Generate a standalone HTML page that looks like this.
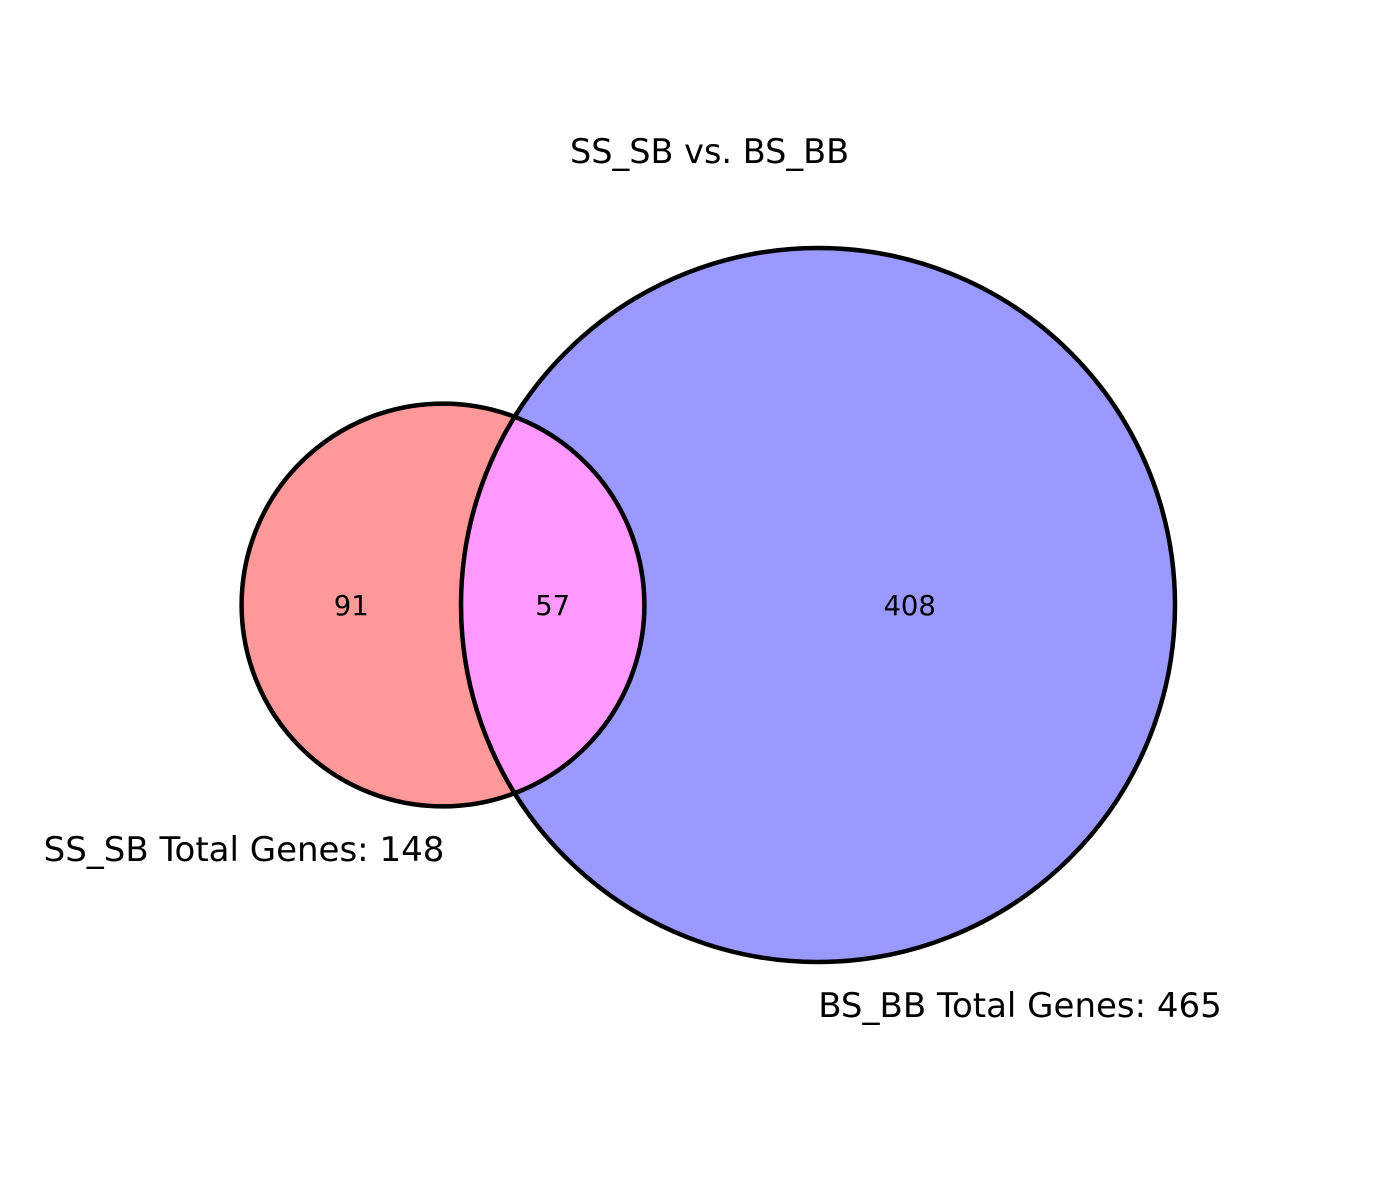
<!DOCTYPE html>
<html><head><meta charset="utf-8"><style>
html,body{margin:0;padding:0;background:#fff}
svg{display:block}
text{font-family:"DejaVu Sans","Liberation Sans",sans-serif;fill:#000}
</style></head><body>
<svg id="chart" width="1384" height="1200" viewBox="0 0 1384 1200">
<text x="709.5" y="163" font-size="33.5" text-anchor="middle">SS_SB vs. BS_BB</text>
</svg>
<script>
const setNames = ["SS_SB", "BS_BB"];
const setTotals = [148, 465];
const regionCounts = [91, 57, 408]; // A only, A∩B, B only

const svg = document.getElementById('chart');
const NS = 'http://www.w3.org/2000/svg';
const k = 357 / Math.sqrt(465);
const rA = k * Math.sqrt(setTotals[0]);
const rB = k * Math.sqrt(setTotals[1]);
const cy = 605;
const cxA = 443, cxB = 818;

function mk(tag, attrs) { const e = document.createElementNS(NS, tag); for (const a in attrs) e.setAttribute(a, attrs[a]); return e; }

const defs = mk('defs', {});
const cp = mk('clipPath', {id: 'clipB'});
cp.appendChild(mk('circle', {cx: cxB, cy: cy, r: rB}));
defs.appendChild(cp);
svg.appendChild(defs);

const circA = mk('circle', {cx: cxA, cy: cy, r: rA, fill: '#ff9999'});


svg.appendChild(circA);
const circB = mk('circle', {cx: cxB, cy: cy, r: rB, fill: '#9999ff'});


svg.appendChild(circB);
const inter = mk('circle', {cx: cxA, cy: cy, r: rA, fill: '#ff99ff', 'clip-path': 'url(#clipB)'});


svg.appendChild(inter);

const oA = mk('circle', {cx: cxA, cy: cy, r: rA, fill: 'none', stroke: '#000', 'stroke-width': 4.5});


svg.appendChild(oA);
const oB = mk('circle', {cx: cxB, cy: cy, r: rB, fill: 'none', stroke: '#000', 'stroke-width': 4.5});


svg.appendChild(oB);

const leftB = cxB - rB, rightA = cxA + rA;
const lx = [(cxA - rA + leftB) / 2, (leftB + rightA) / 2, (rightA + cxB + rB) / 2];
const regionNames = ['count-ss-sb-only', 'count-intersection', 'count-bs-bb-only'];
regionCounts.forEach((v, i) => {
  const t = mk('text', {x: lx[i], y: cy + 10, 'font-size': 27.5, 'text-anchor': 'middle'});
  t.textContent = v;
  
  
  svg.appendChild(t);
});

const tA = mk('text', {x: 244, y: 861, 'font-size': 34, 'text-anchor': 'middle'});
tA.textContent = setNames[0] + ' Total Genes: ' + setTotals[0];


svg.appendChild(tA);
const tB = mk('text', {x: 1020, y: 1017, 'font-size': 34, 'text-anchor': 'middle'});
tB.textContent = setNames[1] + ' Total Genes: ' + setTotals[1];


svg.appendChild(tB);
</script>
</body></html>
